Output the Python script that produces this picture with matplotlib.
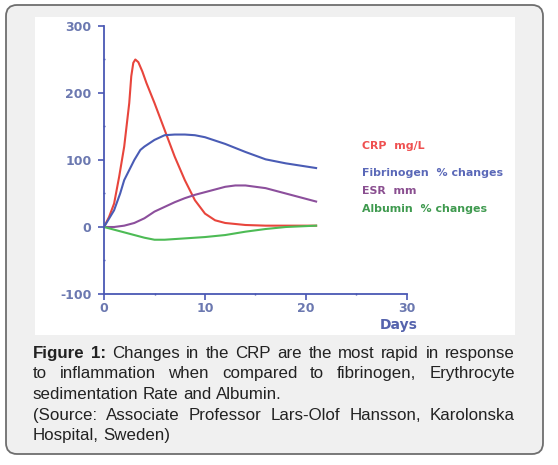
import matplotlib
matplotlib.use("Agg")
import matplotlib.pyplot as plt
import matplotlib.transforms as mtransforms
from matplotlib.patches import FancyBboxPatch, Rectangle
from matplotlib.ticker import MultipleLocator

plt.rcParams["axes.unicode_minus"] = False

# --- data ---
crp_days = [0, 0.5, 1, 1.5, 2, 2.5, 2.7, 2.9, 3.1, 3.4, 3.8, 4.2, 5, 6, 7, 8, 9, 10, 11, 12, 14, 16, 18, 21]
crp_vals = [0, 15, 35, 75, 120, 185, 225, 245, 250, 246, 232, 215, 185, 145, 105, 70, 40, 20, 10, 6, 3, 2, 2, 2]

fib_days = [0, 1, 1.6, 2, 3, 3.6, 4, 5, 6, 7, 8, 9, 10, 12, 14, 16, 18, 21]
fib_vals = [0, 25, 50, 70, 100, 115, 120, 130, 137, 138, 138, 137, 134, 124, 112, 101, 95, 88]

esr_days = [0, 1, 2, 3, 4, 5, 6, 7, 8, 9, 10, 11, 12, 13, 14, 16, 18, 21]
esr_vals = [0, 0, 2, 6, 13, 23, 30, 37, 43, 48, 52, 56, 60, 62, 62, 58, 50, 38]

alb_days = [0, 1, 2, 3, 4, 5, 6, 8, 10, 12, 14, 16, 18, 21]
alb_vals = [0, -4, -8, -12, -16, -19, -19, -17, -15, -12, -7, -3, 0, 2]

legend_labels = ["CRP  mg/L", "Fibrinogen  % changes", "ESR  mm", "Albumin  % changes"]
legend_y = [121, 81, 54, 27]

caption_lines = [
    [("Figure", "bold"), ("1:", "bold"), ("Changes", "normal"), ("in", "normal"), ("the", "normal"),
     ("CRP", "normal"), ("are", "normal"), ("the", "normal"), ("most", "normal"), ("rapid", "normal"),
     ("in", "normal"), ("response", "normal")],
    [("to", "normal"), ("inflammation", "normal"), ("when", "normal"), ("compared", "normal"),
     ("to", "normal"), ("fibrinogen,", "normal"), ("Erythrocyte", "normal")],
    [("sedimentation", "normal"), ("Rate", "normal"), ("and", "normal"), ("Albumin.", "normal")],
    [("(Source:", "normal"), ("Associate", "normal"), ("Professor", "normal"), ("Lars-Olof", "normal"),
     ("Hansson,", "normal"), ("Karolonska", "normal")],
    [("Hospital,", "normal"), ("Sweden)", "normal")],
]
justified = [True, True, False, True, False]

W, H = 558, 465
fig = plt.figure(figsize=(W / 100, H / 100), dpi=100)
fig.patch.set_facecolor("white")
px = mtransforms.IdentityTransform()

# outer rounded frame and white chart panel (pixel coords, origin bottom-left)
frame = FancyBboxPatch((6, H - 454), 537, 449, boxstyle="round,pad=0,rounding_size=11",
                       transform=px, facecolor="#f0f0f0", edgecolor="#6e6e6e", linewidth=1.3,
                       zorder=-10)
fig.patches.append(frame)
panel = Rectangle((35, H - 335), 480, 318, transform=px, facecolor="white", edgecolor="none",
                  zorder=-9)
fig.patches.append(panel)

axis_col = "#4a58b4"
tick_col = "#6b78b0"

ax = fig.add_axes([104 / W, 1 - 294 / H, (407 - 104) / W, (294 - 26) / H])
ax.set_facecolor("none")
ax.plot(crp_days, crp_vals, color="#e8453c", lw=1.5)
ax.plot(fib_days, fib_vals, color="#4a5cb5", lw=1.5)
ax.plot(esr_days, esr_vals, color="#8c4f9c", lw=1.5)
ax.plot(alb_days, alb_vals, color="#4dbb55", lw=1.5)

ax.set_xlim(0, 30)
ax.set_ylim(-100, 300)
for s in ["top", "right"]:
    ax.spines[s].set_visible(False)
for s in ["left", "bottom"]:
    ax.spines[s].set_color(axis_col)
    ax.spines[s].set_linewidth(1.3)
ax.xaxis.set_major_locator(MultipleLocator(10))
ax.xaxis.set_minor_locator(MultipleLocator(5))
ax.yaxis.set_major_locator(MultipleLocator(100))
ax.yaxis.set_minor_locator(MultipleLocator(50))
ax.tick_params(which="major", color=axis_col, length=4, width=1.2, labelcolor=tick_col)
ax.tick_params(which="minor", color=axis_col, length=2, width=1.0, direction="inout")
ax.tick_params(axis="y", pad=5)
ax.tick_params(axis="x", pad=2)
for lab in ax.get_xticklabels() + ax.get_yticklabels():
    lab.set_fontweight("bold")
    lab.set_fontsize(9)

leg_colors = ["#ef5050", "#5a68b8", "#8a4f90", "#3f9a4f"]
for lbl, yy, c in zip(legend_labels, legend_y, leg_colors):
    ax.text(25.5, yy, lbl, color=c, fontsize=7.9, fontweight="bold", va="center", ha="left",
            clip_on=False)

fig.text(399 / W, 1 - 325 / H, "Days", color="#5563ad", fontsize=10, fontweight="bold",
         ha="center", va="center")

# justified caption
fig.canvas.draw()
renderer = fig.canvas.get_renderer()
left, right = 32.5, 515.0
base0, step = 357.5, 20.7
for i, (words, just) in enumerate(zip(caption_lines, justified)):
    yb = H - (base0 + i * step)
    arts = []
    for w, wt in words:
        t = fig.text(0, yb, w, transform=px, family="Liberation Sans", fontsize=12.2,
                     fontweight=wt, color="#222222", va="baseline", ha="left")
        arts.append(t)
    widths = [a.get_window_extent(renderer).width for a in arts]
    if just and len(arts) > 1:
        gap = (right - left - sum(widths)) / (len(arts) - 1)
    else:
        gap = 4.6
    x = left
    for a, wd in zip(arts, widths):
        a.set_position((x, yb))
        x += wd + gap

fig.savefig("out.png", dpi=100)
